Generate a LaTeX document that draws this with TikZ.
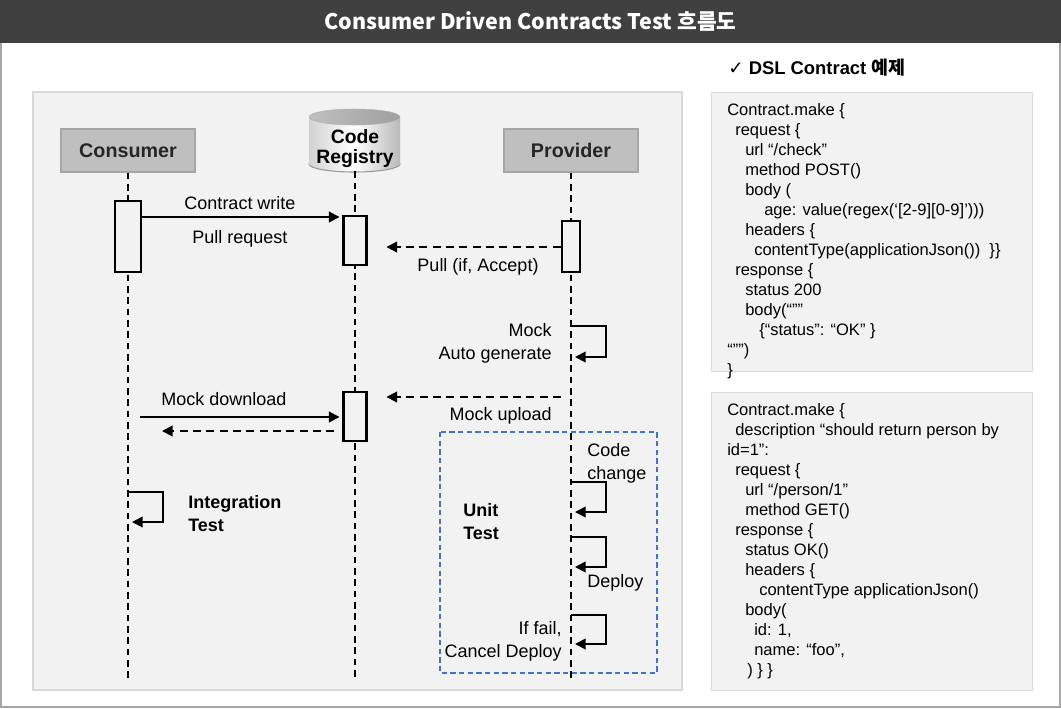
\documentclass[tikz,border=0pt]{standalone}
\usepackage{fontspec}
\setmainfont{Liberation Sans}
\newfontfamily\krfont{Noto Sans CJK KR}
\newfontfamily\symfont{DejaVu Sans}
\usetikzlibrary{shapes.geometric, arrows.meta, positioning, calc}

\definecolor{titlebar}{HTML}{404040}
\definecolor{panelfill}{HTML}{F2F2F2}
\definecolor{panelline}{HTML}{D9D9D9}
\definecolor{headfill}{HTML}{BFBFBF}
\definecolor{headline}{HTML}{A6A6A6}
\definecolor{headtext}{HTML}{262626}
\definecolor{outerline}{HTML}{A6A6A6}
\definecolor{testblue}{HTML}{4472C4}

\tikzset{
    head/.style={draw=headline, fill=headfill, line width=0.8pt, minimum width=100.5pt,
        minimum height=32.25pt, font=\fontsize{14.8}{17}\selectfont\bfseries, text=headtext},
    life/.style={line width=1.5pt, dash pattern=on 5pt off 3.5pt},
    act/.style={draw, fill=panelfill, line width=1.9pt, inner sep=0pt},
    msg/.style={line width=1.4pt, -{Triangle[length=8pt,width=8pt]}},
    reply/.style={msg, dash pattern=on 6pt off 4pt},
    lbl/.style={font=\fontsize{13.5}{17.25}\selectfont, inner sep=0pt},
    boldlbl/.style={lbl, font=\fontsize{13.5}{17.25}\selectfont\bfseries, align=left},
    codebox/.style={draw=panelline, fill=panelfill, line width=0.8pt, anchor=north west},
    codetext/.style={font=\fontsize{12.4}{15}\selectfont, align=left, inner sep=0pt, anchor=north west},
    testframe/.style={draw=testblue, line width=1.1pt, dash pattern=on 4pt off 2.5pt}
}

\begin{document}
\begin{tikzpicture}[x=0.75pt, y=-0.75pt]

% Page, frame and title bar
\useasboundingbox (0,0) rectangle (1061,708);
\fill[white] (0,0) rectangle (1061,708);
\draw[outerline, line width=1.5pt] (0.75,0) -- (0.75,707.25) -- (1060.25,707.25) -- (1060.25,0);
\fill[titlebar] (0,0) rectangle (1061,43);
\node[text=white, font=\krfont\bfseries\fontsize{16.1}{18}\selectfont] (title) at (530.5,21.5)
    {Consumer Driven Contracts Test 흐름도};

% Self message macro
% Arguments: name, lifeline-x, top-y, bottom-y
\def\selfloop#1#2#3#4{
    \coordinate (#1 top) at (#2,#3);
    \coordinate (#1 end) at (#2+4,#4);
    \draw[msg] (#1 top) -- ++(35,0) |- (#1 end);
}

% Sequence panel
\draw[draw=panelline, fill=panelfill, line width=0.8pt] (33,92) rectangle (682,690);

% Participants
\node[head] (consumer) at (128,150.5) {Consumer};
\node[head] (provider) at (571,150.5) {Provider};

% Code registry drum
\shade[left color=gray!35, right color=gray!55, middle color=white, draw=gray!80, line width=0.8pt]
    (354.5,164) ellipse [x radius=45.5, y radius=8];
\shade[left color=gray!35, right color=gray!55, middle color=white] (309,117) rectangle (400,164);
\shade[left color=gray!50, right color=gray!75, draw=gray!60, line width=0.4pt]
    (354.5,117) ellipse [x radius=45.5, y radius=8];
\node[inner sep=0pt, minimum width=68pt, minimum height=33pt, align=center,
    font=\fontsize{14.5}{15}\selectfont\bfseries] (registry) at (355,149) {Code\\Registry};

% Lifelines
\coordinate (life end) at (0,680);
\draw[life] (consumer.south) -- (consumer.south |- life end);
\draw[life] (registry.south) -- (registry.south |- life end);
\draw[life] (provider.south) -- (provider.south |- life end);

% Activations
\node[act, minimum width=19.5pt, minimum height=53.25pt] (cons act) at (128,236.5) {};
\node[act, minimum width=17.25pt, minimum height=36.75pt] (reg act1) at (355,240.5) {};
\node[act, minimum width=13.5pt, minimum height=38.25pt] (prov act) at (571,246.5) {};
\node[act, minimum width=17.25pt, minimum height=36.75pt] (reg act2) at (355,416.5) {};

% Contract write / pull
\draw[msg, shorten >=2pt] (cons act.east |- 0,217) -- (reg act1.west |- 0,217);
\node[lbl] (contract write) at (240,203) {Contract write};
\node[lbl] (pull request) at (240,239) {Pull request};
\draw[reply, shorten >=14pt] (prov act.west |- 0,247) -- (reg act1.east |- 0,247);
\node[lbl] (pull accept) at (478,267) {Pull (if, Accept)};

% Mock generation and upload
\selfloop{mock gen}{571}{326}{357}
\node[lbl, align=right, anchor=east] (mock gen lbl) at (552,343.5) {Mock\\Auto generate};
\coordinate (upload from) at (561,397);
\draw[reply, shorten >=14pt] (upload from) -- (reg act2.east |- upload from);
\node[lbl, anchor=east] (mock upload) at (552,416) {Mock upload};

% Mock download
\coordinate (download from) at (140,417);
\coordinate (download to) at (162,431);
\draw[msg, shorten >=2pt] (download from) -- (reg act2.west |- download from);
\node[lbl] (mock download) at (224,399) {Mock download};
\draw[reply, shorten <=6pt] (reg act2.west |- download to) -- (download to);

% Integration test
\selfloop{integration}{128}{492}{522}
\node[boldlbl, anchor=west] (integration lbl) at (188,513.5) {Integration\\Test};

% Unit test frame
\draw[testframe] (440,432) rectangle (657,673);
\node[boldlbl, anchor=west] (unit lbl) at (463,521.5) {Unit\\Test};
\node[lbl, align=left, anchor=west] (code change) at (587,463.5) {Code\\change};
\selfloop{change}{571}{482}{512}
\selfloop{deploy}{571}{537}{567}
\node[lbl, anchor=west] (deploy lbl) at (587,583) {Deploy};
\selfloop{cancel}{571}{615}{644}
\node[lbl, align=right, anchor=east] (cancel lbl) at (562,641) {If fail,\\Cancel Deploy};

% DSL contract examples
\node[anchor=west, inner sep=0pt, font=\fontsize{13.8}{16}\selectfont\bfseries] (dsl title) at (728,68)
    {{\symfont ✓} DSL Contract {\krfont 예제}};
\node[codebox, minimum width=240.75pt, minimum height=209.25pt] (box1) at (711,92) {};
\node[codebox, minimum width=240.75pt, minimum height=223.5pt] (box2) at (711,392) {};
\node[codetext] (code1) at ([xshift=12pt, yshift=-8.5pt]box1.north west) {%
Contract.make \{\\
\hspace*{6pt}request \{\\
\hspace*{13.5pt}url “/check”\\
\hspace*{13.5pt}method POST()\\
\hspace*{13.5pt}body (\\
\hspace*{27.75pt}age: value(regex(‘[2-9][0-9]’)))\\
\hspace*{13.5pt}headers \{\\
\hspace*{20.25pt}contentType(applicationJson())\ \ \}\}\\
\hspace*{6pt}response \{\\
\hspace*{13.5pt}status 200\\
\hspace*{13.5pt}body(“””\\
\hspace*{24pt}\{“status”: “OK” \}\\
“””)\\
\}};
\node[codetext] (code2) at ([xshift=12pt, yshift=-8.5pt]box2.north west) {%
Contract.make \{\\
\hspace*{6pt}description “should return person by\\
id=1”:\\
\hspace*{6pt}request \{\\
\hspace*{13.5pt}url “/person/1”\\
\hspace*{13.5pt}method GET()\\
\hspace*{6pt}response \{\\
\hspace*{13.5pt}status OK()\\
\hspace*{13.5pt}headers \{\\
\hspace*{24pt}contentType applicationJson()\\
\hspace*{13.5pt}body(\\
\hspace*{20.25pt}id: 1,\\
\hspace*{20.25pt}name: “foo”,\\
\hspace*{15pt}) \} \}};

\end{tikzpicture}
\end{document}
